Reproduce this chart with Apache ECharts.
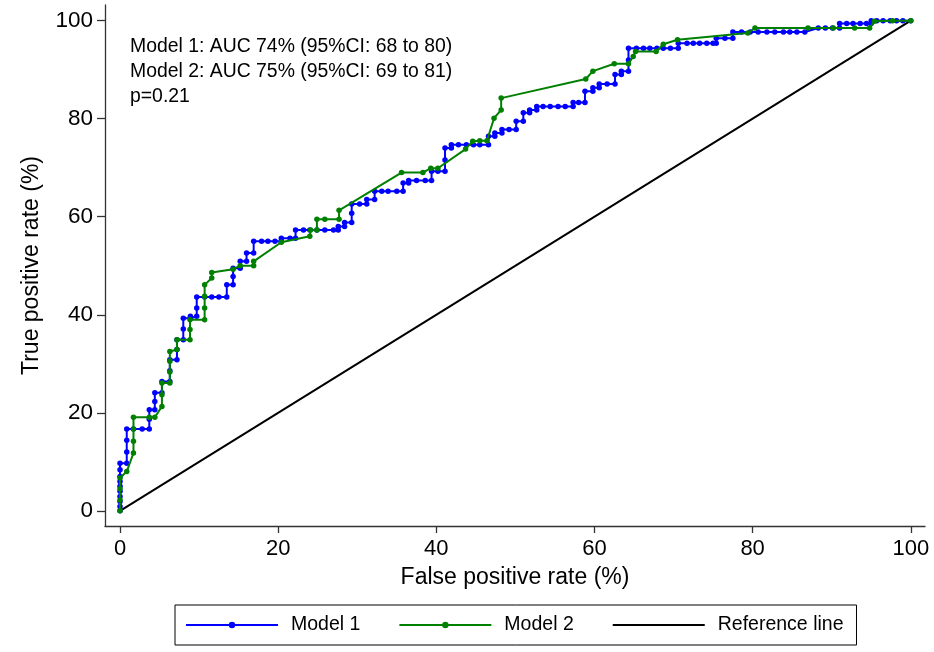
<!DOCTYPE html>
<html>
<head>
<meta charset="utf-8">
<script src="https://cdn.jsdelivr.net/npm/echarts@6.0.0/dist/echarts.min.js"></script>
<style>
  html, body { margin: 0; padding: 0; background: #fff; }
  #chart { width: 934px; height: 652px; }
</style>
</head>
<body>
<div id="chart"></div>
<script>
// tick labels
const xTicks = [0, 20, 40, 60, 80, 100]
const yTicks = [0, 20, 40, 60, 80, 100]

// Model 1 ROC points [FPR %, TPR %]
const model1 = [
  [0, 0], [0, 0.9], [0, 1.9], [0, 2.9], [0, 4.0], [0, 5.0], [0, 6.0], [0, 7.0], [0, 8.4], [0, 9.7],
  [0.85, 9.7], [0.85, 12.0], [0.85, 14.4], [0.85, 16.7], [1.7, 16.7], [2.8, 16.7], [3.7, 16.7],
  [3.7, 18.7], [3.7, 20.6], [4.4, 20.6], [4.4, 22.3], [4.4, 24.1], [5.3, 24.1], [5.3, 26.4],
  [6.3, 26.4], [6.3, 28.6], [6.3, 30.8], [7.2, 30.8], [7.2, 32.9], [7.2, 34.9], [8.0, 34.9],
  [8.0, 37.1], [8.0, 39.3], [8.9, 39.3], [8.9, 39.7], [9.7, 39.7], [9.7, 41.4], [9.7, 43.6],
  [10.7, 43.6], [11.6, 43.6], [12.5, 43.6], [13.5, 43.6], [13.5, 46.1], [14.3, 46.1], [14.3, 47.8],
  [14.3, 49.5], [15.2, 49.5], [15.2, 50.9], [16.0, 50.9], [16.0, 52.6], [16.9, 52.6], [16.9, 55.0],
  [17.9, 55.0], [18.7, 55.0], [19.6, 55.0], [20.4, 55.0], [20.4, 55.6], [21.5, 55.6], [22.2, 55.6],
  [22.2, 57.3], [23.2, 57.3], [24.0, 57.3], [24.9, 57.3], [25.9, 57.3], [27.0, 57.3], [27.6, 57.3],
  [27.6, 58.0], [28.4, 58.0], [28.4, 58.8], [29.3, 58.8], [29.3, 60.7], [29.3, 62.6], [30.3, 62.6],
  [31.2, 62.6], [31.2, 63.5], [32.2, 63.5], [32.2, 65.2], [33.1, 65.2], [33.9, 65.2], [35.0, 65.2],
  [35.8, 65.2], [35.8, 66.9], [36.5, 66.9], [36.5, 67.4], [37.5, 67.4], [38.6, 67.4], [39.4, 67.4],
  [39.4, 69.3], [40.2, 69.3], [41.1, 69.3], [41.1, 71.6], [41.1, 74.0], [41.9, 74.0], [41.9, 74.7],
  [42.8, 74.7], [43.8, 74.7], [44.7, 74.7], [45.5, 74.7], [46.6, 74.7], [46.6, 76.4], [47.4, 76.4],
  [47.4, 77.1], [48.3, 77.1], [48.3, 77.8], [49.2, 77.8], [50.1, 77.8], [50.1, 79.5], [51.0, 79.5],
  [51.0, 81.2], [51.8, 81.2], [51.8, 81.8], [52.7, 81.8], [52.7, 82.5], [53.5, 82.5], [54.4, 82.5],
  [55.4, 82.5], [56.3, 82.5], [57.3, 82.5], [57.3, 83.3], [58.0, 83.3], [58.8, 83.3], [58.8, 85.6],
  [59.8, 85.6], [59.8, 86.3], [60.6, 86.3], [60.6, 87.1], [61.6, 87.1], [62.6, 87.1], [62.6, 89.0],
  [63.4, 89.0], [63.4, 89.7], [64.3, 89.7], [64.3, 92.0], [64.3, 94.4], [65.3, 94.4], [66.2, 94.4],
  [67.0, 94.4], [67.9, 94.4], [68.7, 94.4], [69.6, 94.4], [70.6, 94.4], [70.6, 95.4], [71.7, 95.4],
  [72.5, 95.4], [73.3, 95.4], [74.2, 95.4], [75.0, 95.4], [75.4, 95.4], [75.4, 96.4], [76.5, 96.4],
  [77.5, 96.4], [77.5, 97.7], [78.6, 97.7], [79.7, 97.7], [80.7, 97.7], [81.8, 97.7], [82.8, 97.7],
  [83.9, 97.7], [84.7, 97.7], [85.6, 97.7], [86.6, 97.7], [88.3, 98.5], [89.2, 98.5], [90.1, 98.5],
  [91.0, 98.5], [91.0, 99.4], [91.9, 99.4], [92.7, 99.4], [93.6, 99.4], [94.4, 99.4], [95.0, 99.4],
  [95.0, 100], [95.7, 100], [96.5, 100], [97.4, 100], [98.2, 100], [99.0, 100], [100, 100]
]

// Model 2 ROC points [FPR %, TPR %]
const model2 = [
  [0, 0], [0, 2.2], [0, 4.5], [0, 6.7], [0.85, 8.0], [1.7, 11.8], [1.7, 14.2], [1.7, 16.7],
  [1.7, 19.1], [3.7, 19.1], [4.4, 19.1], [5.3, 21.3], [5.3, 23.7], [5.3, 26.1], [6.3, 26.1],
  [6.3, 28.3], [6.3, 30.5], [6.3, 32.5], [7.2, 32.9], [7.2, 34.9], [8.85, 34.9], [8.85, 37.0],
  [8.85, 39.0], [10.7, 39.0], [10.7, 41.4], [10.7, 43.8], [10.7, 46.1], [11.6, 47.5], [11.6, 48.6],
  [14.3, 49.3], [15.2, 50.0], [16.9, 50.0], [16.9, 50.9], [20.4, 54.8], [24.0, 56.0], [24.1, 57.3],
  [24.9, 57.3], [24.9, 59.5], [25.9, 59.5], [27.7, 59.5], [27.7, 61.3], [35.6, 69.0], [38.3, 69.0],
  [39.3, 69.9], [40.2, 69.9], [43.7, 73.8], [44.6, 75.4], [45.5, 75.5], [46.4, 75.5], [47.3, 80.1],
  [48.2, 81.8], [48.2, 84.2], [58.9, 88.1], [59.8, 89.7], [62.5, 91.2], [64.3, 91.2], [64.9, 92.7],
  [65.2, 93.7], [67.8, 93.7], [68.7, 95.2], [70.5, 96.1], [79.4, 97.5], [80.3, 98.5], [87.0, 98.5],
  [90.2, 98.5], [92.9, 98.5], [94.8, 98.5], [95.4, 99.9], [97.7, 100], [100, 100]
]

// Reference (chance) line
const refLine = [[0, 0], [100, 100]]

const noteLines = [
  'Model 1: AUC 74% (95%CI: 68 to 80)',
  'Model 2: AUC 75% (95%CI: 69 to 81)',
  'p=0.21'
]

const font = 'Liberation Sans'
const chart = echarts.init(document.getElementById('chart'))

const options = {
  animation: false,
  textStyle: { fontFamily: font },
  grid: { left: 105, right: 9, top: 5, bottom: 126 },
  xAxis: {
    type: 'value',
    min: -1.9,
    max: 101.8,
    name: 'False positive rate (%)',
    nameLocation: 'middle',
    nameGap: 40,
    nameTextStyle: { fontSize: 23, color: '#000', fontFamily: font },
    axisLine: { onZero: false, lineStyle: { color: '#333', width: 1.3 } },
    axisTick: { customValues: xTicks, length: 7, lineStyle: { color: '#333', width: 1.3 } },
    axisLabel: { customValues: xTicks, fontSize: 22, color: '#000', margin: 12 },
    splitLine: { show: false }
  },
  yAxis: {
    type: 'value',
    min: -3.1,
    max: 103.2,
    name: 'True positive rate (%)',
    nameLocation: 'middle',
    nameGap: 62,
    nameTextStyle: { fontSize: 23, color: '#000', fontFamily: font },
    axisLine: { show: true, onZero: false, lineStyle: { color: '#333', width: 1.3 } },
    axisTick: { show: true, customValues: yTicks, length: 8, lineStyle: { color: '#333', width: 1.3 } },
    axisLabel: { customValues: yTicks, fontSize: 22.5, color: '#000', margin: 12 },
    splitLine: { show: false }
  },
  legend: {
    data: ['Model 1', 'Model 2', { name: 'Reference line', itemStyle: { opacity: 0 } }],
    left: 175,
    top: 605,
    itemWidth: 92,
    itemHeight: 8,
    itemGap: 38,
    padding: [10, 13, 10, 10],
    borderColor: '#000',
    borderWidth: 1,
    textStyle: { fontSize: 19.5, color: '#000', fontFamily: font, padding: [0, 0, 0, 8] }
  },
  graphic: [
    {
      type: 'text',
      left: 130,
      top: 34,
      style: {
        text: noteLines.join('\n'),
        font: '19.4px "Liberation Sans"',
        lineHeight: 25,
        fill: '#000'
      }
    }
  ],
  series: [
    {
      name: 'Reference line',
      type: 'line',
      data: refLine,
      symbol: 'none',
      lineStyle: { color: '#000', width: 2 },
      itemStyle: { color: '#000' },
      z: 1
    },
    {
      name: 'Model 1',
      type: 'line',
      data: model1,
      symbol: 'circle',
      symbolSize: 5.5,
      showAllSymbol: true,
      lineStyle: { color: '#0000ff', width: 2 },
      itemStyle: { color: '#0000ff' },
      z: 2
    },
    {
      name: 'Model 2',
      type: 'line',
      data: model2,
      symbol: 'circle',
      symbolSize: 5.5,
      showAllSymbol: true,
      lineStyle: { color: '#008000', width: 2 },
      itemStyle: { color: '#008000' },
      z: 3
    }
  ]
}

chart.setOption(options)
</script>
</body>
</html>
